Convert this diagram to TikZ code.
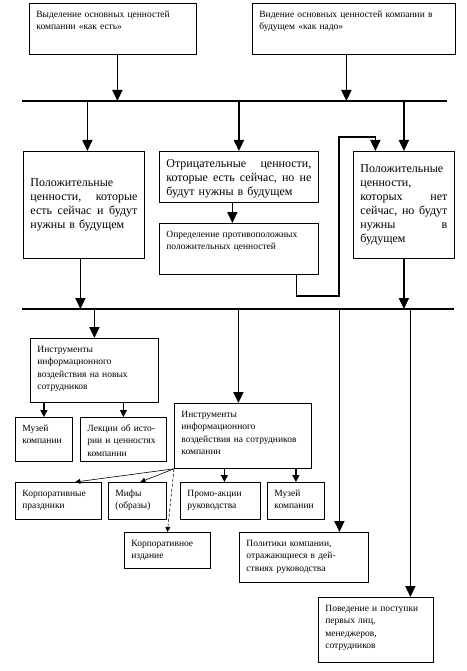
\documentclass[tikz,border=0pt]{standalone}
\usepackage{fontspec}
\setmainfont{Liberation Serif}
\usetikzlibrary{arrows.meta}

\newcommand{\smtext}{\fontsize{9.5}{12.5}\selectfont}
\newcommand{\bgtext}{\fontsize{12}{14}\selectfont}

\begin{document}
\begin{tikzpicture}[
            x=1pt,y=-1pt,
            box/.style={draw,line width=.8pt,anchor=north west,align=left,inner xsep=7pt,inner ysep=4pt},
            tbox/.style 2 args={box,font=\smtext,text width=#1pt-14pt,text height=10pt,text depth=#2pt-18pt},
            bbox/.style 2 args={box,font=\bgtext,text width=#1pt-14pt,text height=12pt,text depth=#2pt-20pt},
            cbox/.style 2 args={box,font=\bgtext,text width=#1pt-14pt,minimum height=#2pt},
            bar/.style={line width=1.8pt},
            arr/.style={line width=1.8pt,-{Triangle[length=11pt,width=10pt]}},
            sarr/.style={line width=1.2pt,-{Triangle[length=7pt,width=7pt]}},
            tarr/.style={line width=.6pt,-{Triangle[length=5pt,width=5pt]}}
          ]
          \useasboundingbox (0,0) rectangle (466,671);

          %top boxes
          \node[tbox={167}{51}] (A) at (29,3) {Выделение основных ценностей\\компании «как есть»};
          \node[tbox={203}{51}] (B) at (252,3) {Видение основных ценностей компании в\\будущем «как надо»};

          %bars
          \coordinate (b1w) at (22,101);
          \coordinate (b1e) at (447,101);
          \coordinate (b2w) at (22,309);
          \coordinate (b2e) at (454,309);
          \draw[bar] (b1w) -- (b1e);
          \draw[bar] (b2w) -- (b2e);

          %values
          \node[cbox={121}{107}] (C) at (23,151) {Положительные\\ценности,\hfill которые\\есть\hfill сейчас\hfill и\hfill будут\\нужны в будущем};
          \node[bbox={159}{51}] (D) at (159,151) {Отрицательные\hfill ценности,\\которые\hfill есть\hfill сейчас,\hfill но\hfill не\\будут нужны в будущем};
          \node[tbox={159}{51}] (E) at (159,223) {Определение противоположных\\положительных ценностей};
          \node[cbox={101}{107}] (F) at (353,151) {Положительные\\ценности,\\которых\hfill нет\\сейчас,\hfill но\hfill будут\\нужны\hfill в\\будущем};

          %tools
          \node[tbox={128}{64}] (G) at (30,338) {Инструменты\\информационного\\воздействия на новых\\сотрудников};
          \node[tbox={57}{44}] (G1) at (15,417) {Музей\\компании};
          \node[tbox={86}{44}] (G2) at (80,417) {Лекции об исто-\\рии и ценностях\\компании};
          \node[tbox={137}{65}] (H) at (174,403) {Инструменты\\информационного\\воздействия на сотрудников\\компании};
          \node[tbox={86}{37}] (I1) at (15,482) {Корпоративные\\праздники};
          \node[tbox={58}{37}] (I2) at (108,482) {Мифы\\(образы)};
          \node[tbox={80}{37}] (I3) at (180,482) {Промо-акции\\руководства};
          \node[tbox={57}{37}] (I4) at (267,482) {Музей\\компании};
          \node[tbox={86}{36}] (J) at (124,532) {Корпоративное\\издание};
          \node[tbox={129}{50}] (K) at (239,532) {Политики компании,\\отражающиеся в дей-\\ствиях руководства};
          \node[tbox={115}{65}] (L) at (318,597) {Поведение и поступки\\первых лиц,\\менеджеров,\\сотрудников};

          %main arrows
          \coordinate (turn) at (339,137);
          \draw[arr] ([xshift=4.5pt]A.south) -- ([xshift=4.5pt]A.south |- b1w);
          \draw[arr] ([xshift=-7.5pt]B.south) -- ([xshift=-7.5pt]B.south |- b1w);
          \draw[arr] ([xshift=3.5pt]C.north |- b1w) -- ([xshift=3.5pt]C.north);
          \draw[arr] (D.north |- b1w) -- (D.north);
          \draw[arr] (F.north |- b1w) -- (F.north);
          \draw[arr] ([xshift=-6.5pt]D.south) -- ([xshift=-6.5pt]E.north);
          \draw[arr] ([xshift=57.5pt]E.south) -- ++(0,21) -| (turn) -| ([xshift=-28.5pt]F.north);
          \draw[arr] ([xshift=-3.5pt]C.south) -- ([xshift=-3.5pt]C.south |- b2w);
          \draw[arr] (F.south) -- (F.south |- b2w);
          \draw[arr] (G.north |- b2w) -- (G.north);
          \draw[arr] ([xshift=-4.5pt]H.north |- b2w) -- ([xshift=-4.5pt]H.north);
          \draw[arr] ([xshift=35.5pt]K.north |- b2w) -- ([xshift=35.5pt]K.north);
          \draw[arr] ([xshift=34.5pt]L.north |- b2w) -- ([xshift=34.5pt]L.north);

          %small arrows
          \draw[sarr] (G.south -| G1.north) -- (G1.north);
          \draw[sarr] (G.south -| G2.north) -- (G2.north);
          \draw[sarr] ([xshift=4pt]I3.north |- H.south) -- ([xshift=4pt]I3.north);
          \draw[sarr] (H.south -| I4.north) -- (I4.north);
          \draw[tarr] (H.south west) -- ([xshift=17pt]I1.north);
          \draw[tarr] (H.south west) -- ([xshift=3pt]I2.north);
          \draw[tarr,densely dashed] (H.south west) -- (J.north);

      \end{tikzpicture}
\end{document}
